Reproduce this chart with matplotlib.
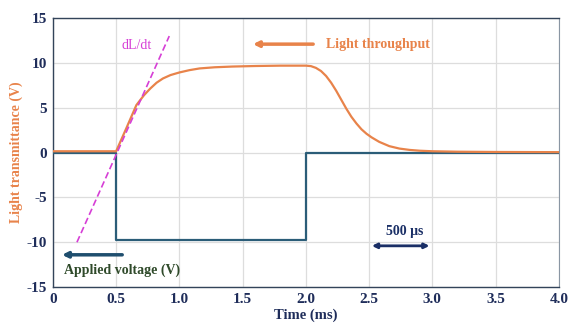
import matplotlib.pyplot as plt

# light throughput (orange)
light_t = [0.0, 0.5, 0.58, 0.66, 0.72, 0.77, 0.82, 0.87, 0.93, 1.0, 1.08, 1.16, 1.28, 1.42, 1.6,
           1.8, 2.0, 2.04, 2.08, 2.12, 2.16, 2.2, 2.24, 2.28, 2.32, 2.36, 2.4, 2.44, 2.48, 2.52,
           2.58, 2.66, 2.74, 2.82, 2.9, 3.0, 3.2, 3.5, 4.0]
light_v = [0.15, 0.15, 2.7, 5.3, 6.4, 7.15, 7.8, 8.27, 8.65, 8.94, 9.2, 9.39, 9.52, 9.6, 9.66,
           9.7, 9.7, 9.65, 9.45, 9.1, 8.55, 7.8, 6.9, 5.9, 4.9, 4.0, 3.25, 2.6, 2.1, 1.7,
           1.2, 0.72, 0.45, 0.3, 0.21, 0.15, 0.1, 0.07, 0.05]

# applied voltage (blue)
volt_t = [0.0, 0.5, 0.5, 2.0, 2.0, 4.0]
volt_v = [0.0, 0.0, -9.8, -9.8, 0.0, 0.0]

# tangent dL/dt
tan_t = [0.19, 0.92]
tan_v = [-10.0, 13.0]

x_ticks = [0, 0.5, 1.0, 1.5, 2.0, 2.5, 3.0, 3.5, 4.0]
x_labels = ["0", "0.5", "1.0", "1.5", "2.0", "2.5", "3.0", "3.5", "4.0"]
y_ticks = [-15, -10, -5, 0, 5, 10, 15]
y_labels = ["-15", "-10", "-5", "0", "5", "10", "15"]

orange = "#e8834a"
blue = "#2b5d78"
navy = "#1f2d5a"
magenta = "#d63fd6"

plt.rcParams['font.family'] = ['Liberation Serif', 'DejaVu Serif']

fig = plt.figure(figsize=(5.69, 3.24), dpi=100)
ax = fig.add_axes([0.093, 0.114, 0.889, 0.83])

ax.plot(volt_t, volt_v, color=blue, linewidth=1.6, zorder=3)
ax.plot(light_t, light_v, color=orange, linewidth=1.6, zorder=4)
ax.plot(tan_t, tan_v, color=magenta, linewidth=1.2, linestyle=(0, (4, 2)), zorder=5)

ax.set_xlim(0, 4.0)
ax.set_ylim(-15, 15)
ax.set_xticks(x_ticks)
ax.set_xticklabels(x_labels)
ax.set_yticks(y_ticks)
ax.set_yticklabels(y_labels)
ax.tick_params(axis='both', length=0, labelsize=11, labelcolor=navy, pad=4)
for lbl in ax.get_xticklabels() + ax.get_yticklabels():
    lbl.set_fontweight('bold')
ax.grid(True, color="#dddddd", linewidth=0.9)
ax.set_axisbelow(True)

for side in ['left', 'bottom', 'top']:
    ax.spines[side].set_color("#33445a")
    ax.spines[side].set_linewidth(1.0)
ax.spines['right'].set_color("#8a96a3")

ax.set_xlabel("Time (ms)", fontsize=10.5, fontweight='bold', color=navy, labelpad=2)
ax.set_ylabel("Light transmittance (V)", fontsize=10, fontweight='bold', color=orange, labelpad=3)

# annotations
ax.text(0.66, 12.0, "dL/dt", color=magenta, fontsize=10, ha='center', va='center')
ax.annotate("", xy=(1.56, 12.1), xytext=(2.08, 12.1),
            arrowprops=dict(arrowstyle='-|>', color=orange, lw=2.5, mutation_scale=8))
ax.text(2.16, 12.1, "Light throughput", color=orange, fontsize=10, fontweight='bold',
        va='center', ha='left')

ax.annotate("", xy=(0.05, -11.4), xytext=(0.57, -11.4),
            arrowprops=dict(arrowstyle='-|>', color="#1f4e6e", lw=2.5, mutation_scale=8))
ax.text(0.09, -13.1, "Applied voltage (V)", color="#2f4a2a", fontsize=10, fontweight='bold',
        va='center', ha='left')

ax.annotate("", xy=(2.5, -10.4), xytext=(3.0, -10.4),
            arrowprops=dict(arrowstyle='<|-|>', color="#1a2f66", lw=2.0, mutation_scale=7))
ax.text(2.78, -8.8, "500 μs", color="#1a2f66", fontsize=10, fontweight='bold',
        va='center', ha='center')

plt.savefig('out.png', dpi=100)
